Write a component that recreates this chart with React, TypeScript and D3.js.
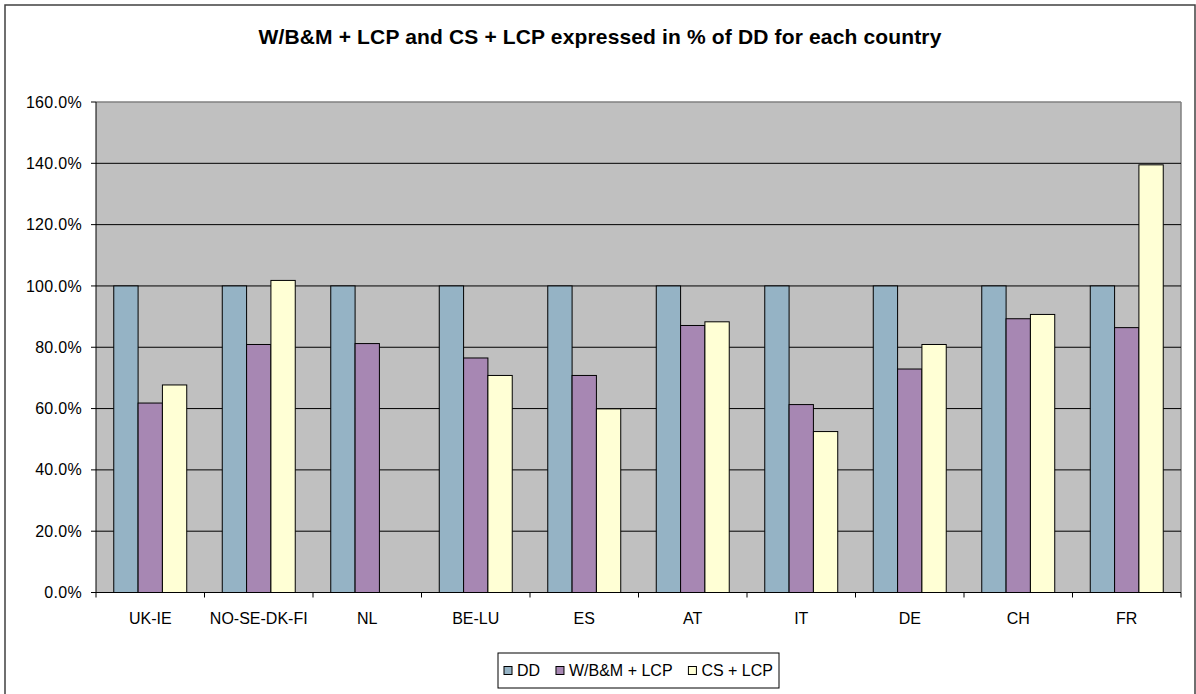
import * as d3 from "d3";

const categories = ["UK-IE", "NO-SE-DK-FI", "NL", "BE-LU", "ES", "AT", "IT", "DE", "CH", "FR"];
const seriesNames = ["DD", "W/B&M + LCP", "CS + LCP"];
const ddValues = [100, 100, 100, 100, 100, 100, 100, 100, 100, 100];
const wbmValues = [61.8, 80.9, 81.2, 76.5, 70.8, 87.1, 61.3, 72.9, 89.3, 86.4];
const csValues: (number | null)[] = [67.7, 101.8, null, 70.8, 59.9, 88.3, 52.5, 80.9, 90.7, 139.5];
const yTicks = [0, 20, 40, 60, 80, 100, 120, 140, 160];
const colors = ["#95B3C5", "#A787B3", "#FFFFD5"];

const W = 1196;
const H = 694;
const plot = { left: 96, right: 1181, top: 102, bottom: 592.5 };
const FONT = "'Liberation Sans', Arial, sans-serif";
const LABEL_SIZE = 16;

// rough text width for legend layout
function textWidth(s: string, size: number): number {
  const ctx = document.createElement("canvas").getContext("2d");
  if (!ctx) return s.length * size * 0.55;
  ctx.font = `${size}px ${FONT}`;
  return ctx.measureText(s).width;
}

export default function App() {
  const x = d3.scaleBand<string>().domain(categories).range([plot.left, plot.right]);
  const inner = d3
    .scaleBand<string>()
    .domain(seriesNames)
    .range([0, x.bandwidth()])
    .paddingInner(0)
    .paddingOuter(0.73);
  const y = d3.scaleLinear().domain([0, 160]).range([plot.bottom, plot.top]);
  const fmt = (v: number) => `${v.toFixed(1)}%`;

  const series = [ddValues, wbmValues, csValues];

  const legend = { x: 498, y: 653, w: 281, h: 35 };
  const widths = seriesNames.map((n) => textWidth(n, LABEL_SIZE));
  const sq = 8;
  const gapSq = 5;
  const contentW = widths.reduce((a, b) => a + b, 0) + seriesNames.length * (sq + gapSq);
  const gapItem = (legend.w - 12 - contentW) / (seriesNames.length - 1);
  let cursor = legend.x + 6;
  const legendItems = seriesNames.map((n, j) => {
    const item = { sq: cursor, tx: cursor + sq + gapSq };
    cursor += sq + gapSq + widths[j] + gapItem;
    return item;
  });

  return (
    <svg
      width={W}
      height={H}
      style={{ position: "absolute", left: 0, top: 0, display: "block", background: "#fff" }}
      fontFamily={FONT}
    >
      {/* chart border */}
      <rect x={5} y={5} width={1190} height={H + 10} fill="#fff" stroke="#404040" strokeWidth={1.5} />

      <text x={600} y={44} textAnchor="middle" fontSize={21} fontWeight="bold" letterSpacing={0.15} fill="#000">
        W/B&amp;M + LCP and CS + LCP expressed in % of DD for each country
      </text>

      {/* plot background */}
      <rect
        x={plot.left}
        y={plot.top}
        width={plot.right - plot.left}
        height={plot.bottom - plot.top}
        fill="#C0C0C0"
      />
      <line x1={plot.left} x2={plot.right} y1={plot.top} y2={plot.top} stroke="#808080" strokeWidth={1.5} />
      <line x1={plot.right} x2={plot.right} y1={plot.top} y2={plot.bottom} stroke="#808080" strokeWidth={1.5} />

      {/* gridlines */}
      {yTicks
        .filter((t) => t > 0 && t < 160)
        .map((t) => (
          <line key={t} x1={plot.left} x2={plot.right} y1={y(t)} y2={y(t)} stroke="#000" strokeWidth={1} />
        ))}

      {/* bars */}
      {categories.map((c, i) => (
        <g key={c} transform={`translate(${x(c)},0)`}>
          {series.map((s, j) => {
            const v = s[i];
            if (v == null) return null;
            return (
              <rect
                key={j}
                x={inner(seriesNames[j])}
                y={y(v)}
                width={inner.bandwidth()}
                height={y(0) - y(v)}
                fill={colors[j]}
                stroke="#000"
                strokeWidth={1}
              />
            );
          })}
        </g>
      ))}

      {/* y axis */}
      <line x1={plot.left} x2={plot.left} y1={plot.top} y2={plot.bottom} stroke="#000" strokeWidth={1} />
      {yTicks.map((t) => (
        <g key={t}>
          <line x1={plot.left - 5} x2={plot.left} y1={y(t)} y2={y(t)} stroke="#000" />
          <text x={82} y={y(t)} dy="0.35em" textAnchor="end" fontSize={LABEL_SIZE} letterSpacing={0.3} fill="#000">
            {fmt(t)}
          </text>
        </g>
      ))}

      {/* x axis */}
      <line x1={plot.left} x2={plot.right} y1={plot.bottom} y2={plot.bottom} stroke="#000" strokeWidth={1} />
      {categories.map((c) => (
        <line key={`t-${c}`} x1={x(c)} x2={x(c)} y1={plot.bottom} y2={plot.bottom + 5} stroke="#000" />
      ))}
      <line x1={plot.right} x2={plot.right} y1={plot.bottom} y2={plot.bottom + 5} stroke="#000" />
      {categories.map((c) => (
        <text
          key={`l-${c}`}
          x={(x(c) ?? 0) + x.bandwidth() / 2}
          y={624}
          textAnchor="middle"
          fontSize={LABEL_SIZE}
          fill="#000"
        >
          {c}
        </text>
      ))}

      {/* legend */}
      <rect x={legend.x} y={legend.y} width={legend.w} height={legend.h} fill="#fff" stroke="#000" strokeWidth={1} />
      {seriesNames.map((n, j) => (
        <g key={n}>
          <rect
            x={legendItems[j].sq}
            y={legend.y + legend.h / 2 - sq / 2}
            width={sq}
            height={sq}
            fill={colors[j]}
            stroke="#000"
            strokeWidth={1}
          />
          <text x={legendItems[j].tx} y={legend.y + legend.h / 2} dy="0.35em" fontSize={LABEL_SIZE} fill="#000">
            {n}
          </text>
        </g>
      ))}
    </svg>
  );
}
